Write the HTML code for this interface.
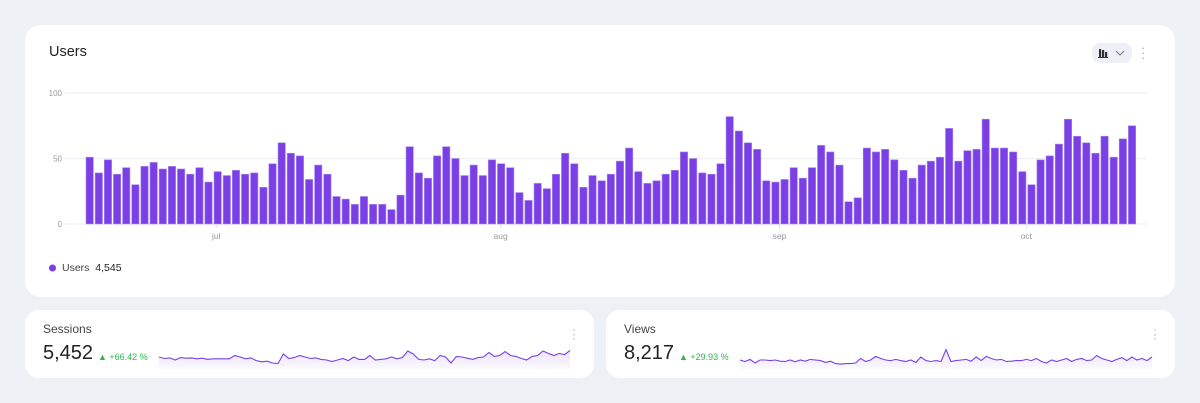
<!DOCTYPE html>
<html><head><meta charset="utf-8"><style>
body{margin:0;width:1200px;height:403px;background:#eef1f6;font-family:"Liberation Sans",sans-serif;position:relative;overflow:hidden}
.card{position:absolute;background:#fff;border-radius:16px}
.t{position:absolute;white-space:nowrap}
</style></head><body>
<div class="card" style="left:25px;top:25px;width:1150px;height:272px"></div>
<div class="t" style="left:49px;top:44px;font-size:14.5px;color:#222">Users</div>
<div style="position:absolute;left:1092px;top:43px;width:40px;height:20px;border-radius:8px;background:#edf0f6">
<svg width="40" height="20"><rect x="7" y="6" width="2.2" height="8" fill="#333"/><rect x="10" y="7" width="2.2" height="7" fill="#333"/><rect x="13" y="9" width="2.2" height="5" fill="#333"/><rect x="6" y="14" width="10" height="1" fill="#333"/><path d="M24 8l4 4L32 8" stroke="#888" fill="none" stroke-width="1.2"/></svg></div>
<div class="t" style="left:1141px;top:45px;font-size:13px;color:#aaa;line-height:5px;">·<br>·<br>·</div>
<svg id="ch" style="position:absolute;left:0;top:0" width="1200" height="300"></svg>
<svg style="position:absolute;left:48px;top:263px" width="10" height="10"><circle cx="4.5" cy="5" r="3.5" fill="#7b3fe4"/></svg>
<div class="t" style="left:62px;top:262px;font-size:10.5px;color:#444">Users&nbsp; <span style="color:#222">4,545</span></div>

<div class="card" style="left:25px;top:310px;width:569px;height:68px;border-radius:14px"></div>
<div class="t" style="left:43px;top:322px;font-size:12px;color:#444">Sessions</div>
<div class="t" style="left:43px;top:342px;font-size:20px;color:#222">5,452</div>
<div class="t" style="left:98px;top:352px;font-size:9px;color:#2eb84b">▲ +66.42 %</div>
<div class="t" style="left:572px;top:327px;font-size:12px;color:#aaa;line-height:4.5px">·<br>·<br>·</div>
<div class="card" style="left:606px;top:310px;width:569px;height:68px;border-radius:14px"></div>
<div class="t" style="left:624px;top:322px;font-size:12px;color:#444">Views</div>
<div class="t" style="left:624px;top:342px;font-size:20px;color:#222">8,217</div>
<div class="t" style="left:679px;top:352px;font-size:9px;color:#2eb84b">▲ +29.93 %</div>
<div class="t" style="left:1153px;top:327px;font-size:12px;color:#aaa;line-height:4.5px">·<br>·<br>·</div>
<svg id="sp" style="position:absolute;left:0;top:0" width="1200" height="403"><defs><linearGradient id="g" x1="0" y1="0" x2="0" y2="1"><stop offset="0" stop-color="#ece3fc"/><stop offset="1" stop-color="#fbf9ff"/></linearGradient></defs></svg>
<script>
const users=[51,39,49,38,43,30,44,47,42,44,42,38,43,32,40,37,41,38,39,28,46,62,54,52,34,45,38,21,19,15,21,15,15,11,22,
59,39,35,52,59,50,37,45,37,49,46,43,24,18,31,27,38,54,46,28,37,33,38,48,58,40,31,33,38,41,55,50,39,38,46,82,71,62,57,33,32,34,43,35,43,60,55,45,17,20,58,55,57,49,41,35,45,48,51,73,48,56,57,80,58,58,55,40,30,49,52,61,80,67,62,54,67,51,65,75];
const yTicks=[0,50,100];
const monthLabels=["jul","aug","sep","oct"];
const monthIdx=[14.3,45.4,75.9,102.9];
const sessions=[50,45,47,40,48,46,47,44,46,42,44,44,44,44,55,50,44,47,38,34,36,30,28,60,45,48,55,50,45,47,42,40,35,40,45,38,50,42,42,55,40,42,44,50,44,48,70,60,42,40,44,38,55,50,30,52,50,46,42,48,50,65,52,55,68,55,52,45,40,52,55,70,62,55,62,58,72];
const views=[40,35,42,30,40,40,38,40,36,35,40,34,40,36,42,40,38,32,36,28,26,28,28,30,45,35,40,52,45,40,38,42,38,35,40,32,50,38,35,38,35,75,35,38,40,42,36,50,38,52,45,40,42,35,36,38,38,42,38,45,35,30,40,35,40,45,35,42,45,38,40,55,45,40,35,42,48,38,50,40,45,38,50];
const NS="http://www.w3.org/2000/svg";
function mk(p,t,a){const e=document.createElementNS(NS,t);for(const k in a)e.setAttribute(k,a[k]);p.appendChild(e);return e;}
const ch=document.getElementById('ch');
const x0=85.5,x1=1137,yb=224,yt=93;
const pitch=(x1-x0)/users.length;
const X=i=>x0+i*pitch, Y=v=>yb-(v/100)*(yb-yt);
yTicks.forEach(v=>{const l=mk(ch,'line',{x1:65,x2:1147,y1:Y(v),y2:Y(v),stroke:'#eceef3','stroke-width':1});


const t=mk(ch,'text',{x:62,y:Y(v)+3,'text-anchor':'end','font-size':8,fill:'#999','font-family':'Liberation Sans'});t.textContent=v;

});
users.forEach((v,i)=>{const r=mk(ch,'rect',{x:X(i)+0.5,y:Y(v),width:pitch-1.8,height:yb-Y(v),fill:'#7a40e6',stroke:'#a88af0','stroke-width':0.6});

});
monthLabels.forEach((m,i)=>{const x=X(monthIdx[i]);mk(ch,'line',{x1:x,x2:x,y1:224,y2:228,stroke:'#ddd'});
const t=mk(ch,'text',{x:x,y:239,'text-anchor':'middle','font-size':8.5,fill:'#999','font-family':'Liberation Sans'});t.textContent=m;

});
const sp=document.getElementById('sp');
function spark(d,xs,xe,name){const mn=20,mx=80,ya=366,yz=348;
const px=i=>xs+i*(xe-xs)/(d.length-1),py=v=>ya-(v-mn)/(mx-mn)*(ya-yz);
let p=d.map((v,i)=>(i?'L':'M')+px(i).toFixed(1)+' '+py(v).toFixed(1)).join('');
const a=mk(sp,'path',{d:p+'L'+xe+' 369L'+xs+' 369Z',fill:'url(#g)'});


const l=mk(sp,'path',{d:p,fill:'none',stroke:'#7a40e6','stroke-width':1.1});

}
spark(sessions,159,570,'sessions-sparkline');
spark(views,740,1152,'views-sparkline');
</script>
</body></html>
